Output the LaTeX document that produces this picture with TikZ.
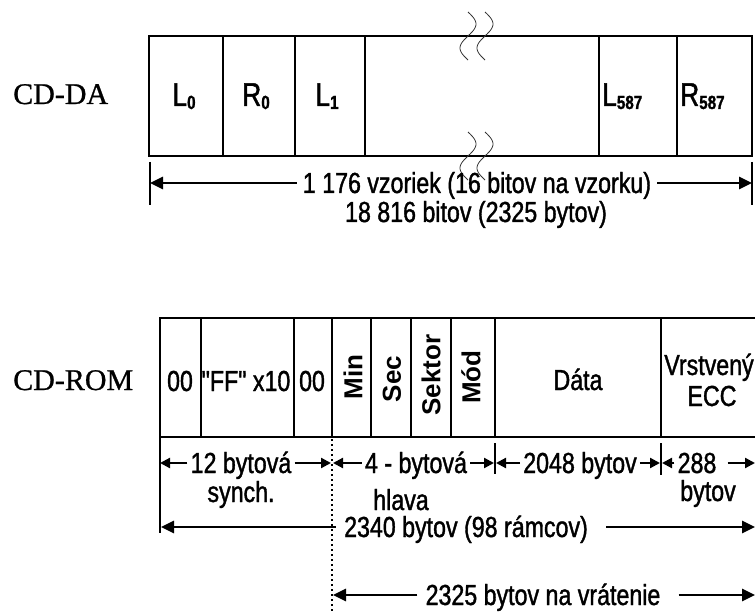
\documentclass[tikz,border=0pt]{standalone}
\usepackage{fontspec}
\setmainfont{Liberation Sans}
\newfontfamily\lab{Liberation Sans}[FakeStretch=0.8, FakeBold=1.3]
\newfontfamily\rotfont{Liberation Sans}
\newfontfamily\ttlfont{Liberation Serif}[FakeBold=0.8]
\usetikzlibrary{arrows.meta}
\tikzset{
  bx/.style={line width=1.5pt},
  dv/.style={line width=1.1pt},
  tx/.style={font=\lab\fontsize{29}{30}\selectfont, inner xsep=3pt, inner ysep=0pt},
  lbl/.style={font=\lab\fontsize{33}{34}\selectfont, inner sep=0pt},
  vt/.style={font=\rotfont\bfseries\fontsize{26}{28}\selectfont, inner sep=0pt, rotate=90},
  ttl/.style={font=\ttlfont\fontsize{30}{32}\selectfont, inner sep=0pt, anchor=base west},
  bigarr/.style={line width=2.6pt, -{Triangle[length=13pt,width=12pt]}},
  smarr/.style={line width=2.2pt, -{Triangle[length=10pt,width=10pt]}},
  tick/.style={line width=1.3pt},
  squig/.style={line width=0.8pt, black!80},
}
\newcommand{\subdig}[1]{\raisebox{-3pt}{\fontsize{19}{19}\selectfont\bfseries #1}}
\begin{document}
\begin{tikzpicture}[x=1pt,y=-1pt]
\useasboundingbox (0,0) rectangle (755,612);

% ---------- CD-DA ----------
\node[ttl] (tda) at (13,104) {CD-DA};
\draw[bx] (149,36) rectangle (752,156);
\foreach \xx in {223,295,365,599,677} \draw[dv] (\xx,36) -- (\xx,156);
\node[lbl, anchor=base] (l0) at (184,106) {L\subdig{0}};
\node[lbl, anchor=base] (r0) at (256,106) {R\subdig{0}};
\node[lbl, anchor=base] (l1) at (327,106) {L\subdig{1}};
\node[lbl, anchor=base west] (l587) at (602,106) {L\subdig{587}};
\node[lbl, anchor=base west] (r587) at (680,106) {R\subdig{587}};

% squiggles
\foreach \xx/\yy in {468/12,485/12,468/132,485/132}
  \draw[squig, shift={(\xx,\yy)}] plot[domain=0:48, samples=40, smooth] ({8*sin(7.5*\x)},\x);

% dimension
\coordinate (dtL1) at (150,162); \coordinate (dtL2) at (150,205);
\coordinate (dtR1) at (752,162); \coordinate (dtR2) at (752,205);
\draw[tick] (dtL1) -- (dtL2);
\draw[tick] (dtR1) -- (dtR2);
\coordinate (daL) at (150,183); \coordinate (daR) at (752,183);
\node[tx, anchor=base, inner xsep=6pt] (t1) at (477,193) {1 176 vzoriek (16 bitov na vzorku)};
\node[tx, anchor=base] (t2) at (476,222) {18 816 bitov (2325 bytov)};
\draw[bigarr] (t1.west |- daL) -- (daL);
\draw[bigarr] (t1.east |- daR) -- (daR);

% ---------- CD-ROM ----------
\node[ttl] (trom) at (13,390) {CD-ROM};
\draw[bx] (755,318) -- (160,318) -- (160,437) -- (755,437);
\foreach \xx in {201,294,332,371,411,451,495,661} \draw[dv] (\xx,318) -- (\xx,437);
\node[tx, anchor=base] (c00a) at (180,391) {00};
\node[tx, anchor=base] (cff) at (246,391) {"FF" x10};
\node[tx, anchor=base] (c00b) at (312,391) {00};
\node[vt] (cmin) at (353,377) {Min};
\node[vt] (csec) at (392,379) {Sec};
\node[vt] (csek) at (431,375) {Sektor};
\node[vt] (cmod) at (471,377) {Mód};
\node[tx, anchor=base] (cdata) at (578,390) {Dáta};
\node[tx, anchor=base] (cvr) at (709,375) {Vrstvený};
\node[tx, anchor=base] (cecc) at (712,406) {ECC};

% left line and dotted line
\coordinate (ltop) at (160,437); \coordinate (lbot) at (160,533);
\draw[tick] (ltop) -- (lbot);
\coordinate (dtop) at (332,439); \coordinate (dbot) at (332,612);
\draw[line width=1.3pt, dash pattern=on 1.5pt off 3.5pt] (dtop) -- (dbot);
\coordinate (tk1a) at (495,443); \coordinate (tk1b) at (495,474);
\coordinate (tk2a) at (661,443); \coordinate (tk2b) at (661,475);
\draw[tick] (tk1a) -- (tk1b);
\draw[tick] (tk2a) -- (tk2b);

% row 1
\coordinate (r1a) at (160,463); \coordinate (r1b) at (331,463);
\coordinate (r1c) at (333,463); \coordinate (r1d) at (494,463);
\coordinate (r1e) at (496,463); \coordinate (r1f) at (660,463);
\coordinate (r1g) at (662,463); \coordinate (r1h) at (755,463);
\node[tx, anchor=base] (s12) at (241,473) {12 bytová};
\node[tx, anchor=base] (s4) at (416,473) {4 - bytová};
\node[tx, anchor=base] (s2048) at (580,473) {2048 bytov};
\node[tx, anchor=base] (s288) at (697,473) {288};
\node[tx, anchor=base] (ssy) at (241,502) {synch.};
\node[tx, anchor=base] (shl) at (401,510) {hlava};
\node[tx, anchor=base] (sby) at (708,501) {bytov};
\draw[smarr] (s12.west |- r1a) -- (r1a);
\draw[smarr] (s12.east |- r1b) -- (r1b);
\draw[smarr] (s4.west |- r1c) -- (r1c);
\draw[smarr] (s4.east |- r1d) -- (r1d);
\draw[smarr] (s2048.west |- r1e) -- (r1e);
\draw[smarr] (s2048.east |- r1f) -- (r1f);
\draw[smarr] (s288.west |- r1g) -- (r1g);
\draw[smarr] ([xshift=8pt]s288.east |- r1h) -- (r1h);

% row 3
\coordinate (r3a) at (161,527); \coordinate (r3b) at (755,527);
\node[tx, anchor=base, inner xsep=8pt] (s2340) at (466,537) {2340 bytov (98 rámcov)};
\draw[bigarr] (s2340.west |- r3a) -- (r3a);
\draw[bigarr] ([xshift=10pt]s2340.east |- r3b) -- (r3b);

% row 4
\coordinate (r4a) at (333,595); \coordinate (r4b) at (755,595);
\node[tx, anchor=base, inner xsep=8pt] (s2325) at (543,605) {2325 bytov na vrátenie};
\draw[bigarr] (s2325.west |- r4a) -- (r4a);
\draw[bigarr] ([xshift=10pt]s2325.east |- r4b) -- (r4b);
\end{tikzpicture}
\end{document}
